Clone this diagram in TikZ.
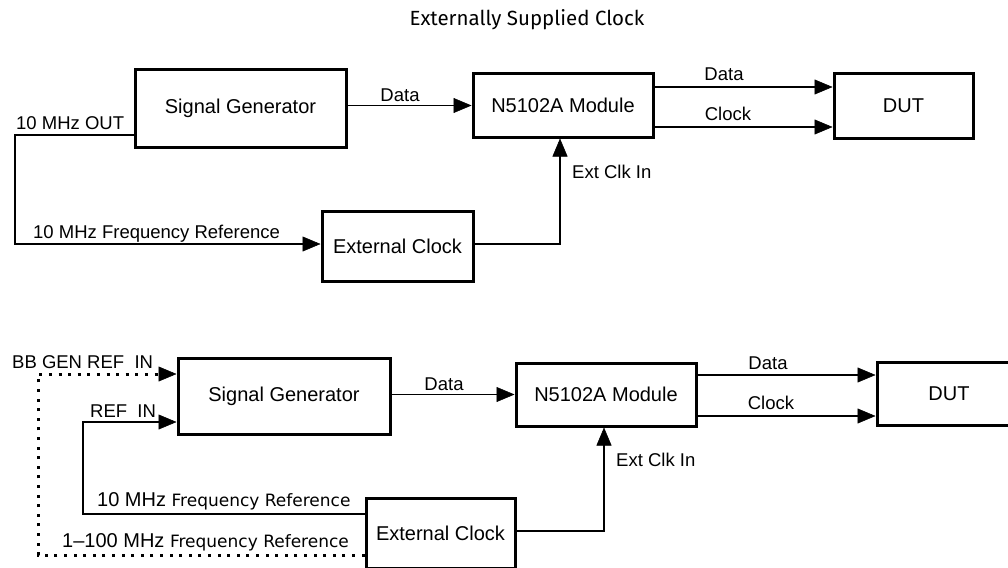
\documentclass[tikz,border=0pt]{standalone}
\usepackage{fontspec}
\setmainfont{Liberation Sans}
\newfontfamily\titlefont{Fira Sans}
\newfontfamily\dvfont{DejaVu Sans}
\usetikzlibrary{arrows.meta}
\begin{document}
\begin{tikzpicture}[x=1pt,y=-1pt,
  box/.style={draw,line width=3pt,inner sep=0pt,font=\fontsize{20}{24}\selectfont},
  lbl/.style={inner sep=0pt,font=\fontsize{18.5}{22}\selectfont},
  big/.style={inner sep=0pt,font=\fontsize{20}{24}\selectfont},
  conn/.style={line width=1.5pt},
  tip/.style={-{Triangle[length=18pt,width=15pt,line width=0.5pt]}},
  arr/.style={conn,tip},
  dots/.style={line width=3pt,dash pattern=on 3pt off 6.6pt,tip}]
\useasboundingbox (0,0) rectangle (1008,567);

% title
\node[inner sep=0pt,anchor=base,font=\titlefont\fontsize{20.5}{24}\selectfont] (title) at (527,26) {Externally Supplied Clock};

% ---------- top diagram ----------
\node[box,minimum width=211pt,minimum height=77pt] (sg1) at (240.5,108.5) {Signal Generator};
\node[box,minimum width=180pt,minimum height=63pt] (mod1) at (563,105.5) {N5102A Module};
\node[box,minimum width=139pt,minimum height=64pt] (dut1) at (903.5,106) {DUT};
\node[box,minimum width=151pt,minimum height=70pt] (ec1) at (397.5,246) {External Clock};

\draw[arr] ([yshift=-26.5pt]sg1.west) -- ++(-118.5,0) |- ([yshift=2pt]ec1.west);
\draw[arr] (sg1.east |- mod1.west) -- (mod1.west);
\draw[arr] ([yshift=18.5pt]mod1.east) -- ([yshift=18.5pt]mod1.east -| dut1.west);
\draw[arr] ([yshift=-21.5pt]mod1.east) -- ([yshift=-21.5pt]mod1.east -| dut1.west);
\draw[arr] ([yshift=2pt]ec1.east) -| ([xshift=-3pt]mod1.south);

\node[lbl,anchor=base west] (out1) at (16,129) {10 MHz OUT};
\node[lbl,anchor=base west] (ref1) at (33,238) {10 MHz Frequency Reference};
\node[lbl,anchor=base] (data1) at (400,102) {Data};
\node[lbl,anchor=base] (data1b) at (724,81) {Data};
\node[lbl,anchor=base] (clk1) at (728,121) {Clock};
\node[lbl,anchor=base west] (ext1) at (572,178) {Ext Clk In};

% ---------- bottom diagram ----------
\node[box,minimum width=212pt,minimum height=76pt] (sg2) at (284,396) {Signal Generator};
\node[box,minimum width=180pt,minimum height=63pt] (mod2) at (606,394.5) {N5102A Module};
\node[box,minimum width=144pt,minimum height=63pt] (dut2) at (949,394) {DUT};
\node[box,minimum width=149pt,minimum height=70pt] (ec2) at (440.5,533) {External Clock};

\draw[dots] ([yshift=-22pt]ec2.west) -- ++(-326.5,0) |- ([yshift=22pt]sg2.west);
\draw[arr] ([yshift=19pt]ec2.west) -- ++(-281.5,0) |- ([yshift=-26pt]sg2.west);
\draw[arr] (sg2.east |- mod2.west) -- (mod2.west);
\draw[arr] ([yshift=19.5pt]mod2.east) -- ([yshift=19.5pt]mod2.east -| dut2.west);
\draw[arr] ([yshift=-21.5pt]mod2.east) -- ([yshift=-21.5pt]mod2.east -| dut2.west);
\draw[arr] ([yshift=2pt]ec2.east) -| ([xshift=-2pt]mod2.south);

\node[lbl,anchor=base west] (bb2) at (12,368) {BB GEN REF\ \ IN};
\node[lbl,anchor=base west] (refin2) at (90,417) {REF\ \ IN};
\node[lbl,anchor=base] (data2) at (444,390) {Data};
\node[lbl,anchor=base] (data2b) at (768,369) {Data};
\node[lbl,anchor=base] (clk2) at (771,409) {Clock};
\node[lbl,anchor=base west] (ext2) at (616,466) {Ext Clk In};
\node[big,anchor=base west] (ref2a) at (97,506) {10 MHz {\dvfont\fontsize{17}{20}\selectfont Frequency Reference}};
\node[big,anchor=base west] (ref2b) at (62,547) {1–100 MHz {\dvfont\fontsize{17}{20}\selectfont Frequency Reference}};
\end{tikzpicture}
\end{document}
